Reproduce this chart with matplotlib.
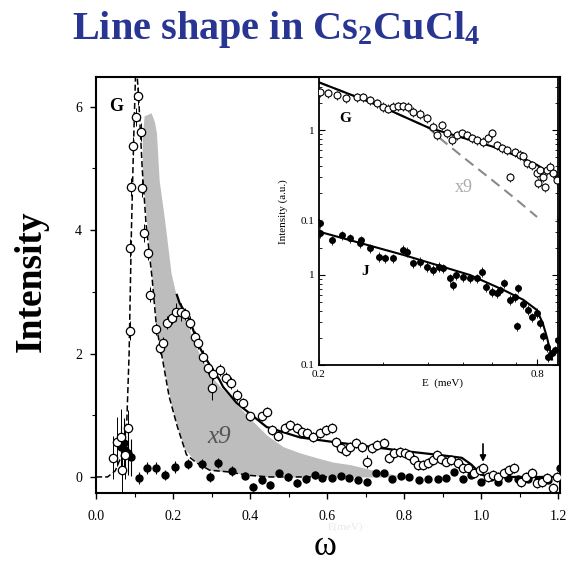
import numpy as np
import matplotlib
matplotlib.use("Agg")
import matplotlib.pyplot as plt
from matplotlib.ticker import FixedLocator, FixedFormatter, NullFormatter

plt.rcParams['font.family'] = ['Liberation Serif', 'DejaVu Serif']
plt.rcParams['mathtext.fontset'] = 'custom'
plt.rcParams['mathtext.rm'] = 'Liberation Serif:bold'
plt.rcParams['mathtext.it'] = 'Liberation Serif:bold'
plt.rcParams['mathtext.bf'] = 'Liberation Serif:bold'

# ---------------- main panel data ----------------
g_w = [0.044, 0.055, 0.065, 0.068, 0.075, 0.084, 0.087, 0.089, 0.092, 0.097, 0.104, 0.110,
       0.117, 0.120, 0.125, 0.136, 0.141, 0.157, 0.167, 0.175, 0.185, 0.198, 0.209, 0.222,
       0.232, 0.243, 0.258, 0.264, 0.277, 0.290, 0.300, 0.303, 0.321, 0.337, 0.350, 0.367,
       0.381, 0.400, 0.430, 0.443, 0.457, 0.473, 0.490, 0.504, 0.522, 0.535, 0.548, 0.564,
       0.582, 0.598, 0.613, 0.624, 0.636, 0.648, 0.660, 0.674, 0.692, 0.705, 0.718, 0.731,
       0.747, 0.760, 0.773, 0.789, 0.802, 0.812, 0.825, 0.836, 0.849, 0.862, 0.875, 0.885,
       0.896, 0.909, 0.922, 0.940, 0.953, 0.966, 0.982, 0.997, 1.005, 1.018, 1.031, 1.044,
       1.060, 1.073, 1.086, 1.104, 1.118, 1.131, 1.144, 1.157, 1.170, 1.188, 1.196]
g_I = [0.31, 0.57, 0.65, 0.11, 0.36, 0.79, 2.37, 3.71, 4.70, 5.36, 5.83, 6.17,
       5.59, 4.68, 3.95, 3.63, 2.95, 2.40, 2.09, 2.17, 2.50, 2.58, 2.67, 2.67,
       2.64, 2.50, 2.27, 2.17, 1.95, 1.77, 1.44, 1.67, 1.73, 1.60, 1.52, 1.33,
       1.20, 0.98, 0.98, 1.06, 0.76, 0.66, 0.79, 0.84, 0.79, 0.73, 0.71, 0.65,
       0.71, 0.76, 0.80, 0.56, 0.47, 0.42, 0.49, 0.55, 0.49, 0.25, 0.47, 0.52,
       0.55, 0.31, 0.39, 0.41, 0.39, 0.36, 0.28, 0.19, 0.19, 0.23, 0.28, 0.36,
       0.29, 0.25, 0.28, 0.23, 0.15, 0.15, 0.06, 0.11, 0.15, 0.00, 0.03, 0.00,
       0.06, 0.11, 0.15, -0.08, 0.00, 0.06, -0.10, -0.08, -0.02, -0.18, 0.00]
g_err = [0.35, 0.40, 0.45, 0.40, 0.40, 0.30, 0.15, 0.15, 0.15, 0.15, 0.15, 0.15,
         0.15, 0.15, 0.15, 0.12, 0.12, 0.10, 0.10, 0.10, 0.10, 0.10, 0.15, 0.15,
         0.10, 0.10, 0.10, 0.10, 0.10, 0.10, 0.20, 0.10, 0.10, 0.10, 0.10, 0.10,
         0.08, 0.08, 0.08, 0.08, 0.08, 0.08, 0.08, 0.08, 0.08, 0.08, 0.08, 0.08,
         0.08, 0.08, 0.08, 0.08, 0.08, 0.08, 0.08, 0.08, 0.08, 0.10, 0.08, 0.08,
         0.08, 0.08, 0.08, 0.08, 0.08, 0.08, 0.08, 0.08, 0.08, 0.08, 0.08, 0.08,
         0.08, 0.08, 0.08, 0.08, 0.08, 0.08, 0.08, 0.08, 0.08, 0.08, 0.08, 0.08,
         0.08, 0.08, 0.08, 0.08, 0.08, 0.08, 0.08, 0.08, 0.08, 0.08, 0.08]

j_w = [0.066, 0.072, 0.076, 0.082, 0.091, 0.112, 0.133, 0.157, 0.180, 0.204, 0.238, 0.274,
       0.295, 0.316, 0.352, 0.386, 0.407, 0.430, 0.452, 0.475, 0.499, 0.522, 0.546, 0.569,
       0.587, 0.613, 0.637, 0.658, 0.681, 0.705, 0.726, 0.747, 0.770, 0.791, 0.812, 0.838,
       0.862, 0.888, 0.909, 0.930, 0.953, 0.974, 1.000, 1.026, 1.044, 1.070, 1.097, 1.123,
       1.149, 1.175, 1.204]
j_I = [0.49, 0.55, 0.44, 0.38, 0.32, -0.02, 0.15, 0.15, 0.03, 0.16, 0.21, 0.21,
       0.00, 0.23, 0.10, 0.02, -0.16, -0.05, -0.13, 0.06, 0.00, -0.10, -0.03, 0.03,
       -0.02, -0.02, 0.02, -0.02, -0.05, -0.08, 0.06, 0.07, -0.03, 0.02, 0.00, -0.05,
       -0.03, -0.03, -0.02, 0.08, -0.03, 0.03, -0.08, 0.00, -0.08, -0.02, -0.03, -0.03,
       -0.05, -0.05, 0.15]
j_err = [0.35, 0.40, 0.40, 0.35, 0.30, 0.10, 0.10, 0.10, 0.08, 0.10, 0.08, 0.08,
         0.08, 0.08, 0.08, 0.06, 0.06, 0.06, 0.06, 0.06, 0.06, 0.06, 0.06, 0.06,
         0.05, 0.05, 0.05, 0.05, 0.05, 0.05, 0.05, 0.05, 0.05, 0.05, 0.05, 0.05,
         0.05, 0.05, 0.05, 0.05, 0.05, 0.05, 0.05, 0.05, 0.05, 0.05, 0.05, 0.05,
         0.05, 0.05, 0.08]

fit_w = [0.210, 0.217, 0.243, 0.269, 0.287, 0.321, 0.330, 0.365, 0.381, 0.443, 0.530,
         0.600, 0.700, 0.800, 0.900, 0.950, 0.975, 1.000, 1.020, 1.205]
fit_I = [2.95, 2.82, 2.54, 2.10, 1.90, 1.57, 1.46, 1.20, 1.12, 0.81, 0.64,
         0.58, 0.50, 0.42, 0.35, 0.31, 0.20, 0.04, 0.00, 0.00]

dash_w = [0.000, 0.030, 0.050, 0.070, 0.080, 0.086, 0.092, 0.098, 0.104, 0.112, 0.120,
          0.130, 0.146, 0.157, 0.170, 0.190, 0.211, 0.235, 0.261, 0.295, 0.347, 0.390,
          0.450, 0.600]
dash_I = [0.00, 0.00, 0.10, 0.40, 0.90, 2.00, 4.00, 5.50, 6.80, 6.00, 5.00,
          4.10, 3.20, 2.43, 2.00, 1.30, 0.82, 0.36, 0.23, 0.11, 0.08, 0.03,
          0.00, 0.00]

grey_w = [0.120, 0.125, 0.143, 0.152, 0.157, 0.164, 0.178, 0.195, 0.209, 0.230, 0.260,
          0.300, 0.350, 0.400, 0.443, 0.486, 0.530, 0.574, 0.616, 0.660, 0.700, 0.740, 0.780]
grey_top = [5.50, 5.85, 5.90, 5.75, 5.57, 4.81, 4.17, 3.30, 2.92, 2.60, 2.10,
            1.62, 1.28, 0.95, 0.68, 0.49, 0.39, 0.31, 0.24, 0.20, 0.14, 0.08, 0.03]

arrow_w = 1.005
arrow_from, arrow_to = 0.58, 0.20

main_xticks = [0.0, 0.2, 0.4, 0.6, 0.8, 1.0, 1.2]
main_xticklabels = ['0.0', '0.2', '0.4', '0.6', '0.8', '1.0', '1.2']
main_yticks = [0, 2, 4, 6]

# ---------------- inset data ----------------
gi_E = [0.201, 0.212, 0.224, 0.238, 0.254, 0.265, 0.277, 0.289, 0.301, 0.311, 0.321, 0.331,
        0.342, 0.353, 0.364, 0.380, 0.397, 0.414, 0.423, 0.437, 0.451, 0.465, 0.480, 0.496,
        0.512, 0.528, 0.545, 0.569, 0.587, 0.599, 0.619, 0.639, 0.660, 0.673, 0.696, 0.718,
        0.733, 0.749, 0.773, 0.798, 0.807, 0.816, 0.833, 0.842, 0.851, 0.869, 0.887, 0.906]
gi_I = [2.66, 2.56, 2.45, 2.25, 2.34, 2.34, 2.15, 1.98, 1.82, 1.74, 1.82, 1.85,
        1.85, 1.82, 1.60, 1.53, 1.35, 1.09, 0.88, 1.14, 0.92, 0.77, 0.88, 0.92,
        0.88, 0.81, 0.77, 0.74, 0.81, 0.92, 0.68, 0.63, 0.60, 0.30, 0.57, 0.53,
        0.51, 0.43, 0.41, 0.33, 0.26, 0.36, 0.30, 0.23, 0.36, 0.39, 0.33, 0.28]
gi_fit_E = [0.20, 0.25, 0.30, 0.40, 0.50, 0.60, 0.70, 0.80, 0.914]
gi_fit_I = [3.40, 2.40, 1.80, 1.07, 0.82, 0.66, 0.52, 0.41, 0.29]
gi_x9_E = [0.20, 0.30, 0.40, 0.43, 0.50, 0.60, 0.70, 0.80]
gi_x9_I = [3.40, 1.80, 1.07, 0.82, 0.50, 0.28, 0.17, 0.108]

ji_E = [0.201, 0.201, 0.217, 0.231, 0.244, 0.260, 0.262, 0.277, 0.292, 0.304, 0.321, 0.342,
        0.349, 0.364, 0.380, 0.397, 0.414, 0.428, 0.441, 0.459, 0.468, 0.478, 0.500, 0.522,
        0.545, 0.562, 0.580, 0.599, 0.619, 0.631, 0.650, 0.673, 0.696, 0.704, 0.710, 0.733,
        0.757, 0.773, 0.798, 0.816, 0.833, 0.851, 0.860, 0.877, 0.896, 0.913]
ji_I = [3.75, 2.90, 2.45, 2.78, 2.55, 2.25, 2.45, 1.98, 1.60, 1.53, 1.53, 1.90,
        1.82, 1.35, 1.41, 1.24, 1.14, 1.24, 1.19, 0.92, 0.77, 1.00, 0.96, 0.92,
        0.92, 1.09, 0.74, 0.65, 0.63, 0.68, 0.81, 0.53, 0.57, 0.27, 0.71, 0.48,
        0.41, 0.34, 0.38, 0.29, 0.21, 0.16, 0.124, 0.135, 0.147, 0.19]
ji_fit_E = [0.20, 0.342, 0.522, 0.647, 0.733, 0.798, 0.830, 0.851, 0.869, 0.880]
ji_fit_I = [3.03, 1.67, 1.00, 0.68, 0.53, 0.41, 0.29, 0.206, 0.147, 0.115]

inset_xticks = [0.2, 0.8]
inset_xticklabels = ['0.2', '0.8']
inset_yticks = [0.1, 1]
inset_yticklabels = ['0.1', '1']

# ---------------- figure ----------------
fig = plt.figure(figsize=(5.70, 5.64), dpi=100)
fig.patch.set_facecolor('white')

ax = fig.add_axes([96/570, 1-493/564, 464/570, 416/564])
ax.set_xlim(0, 1.205)
ax.set_ylim(-0.26, 6.48)

lower = np.interp(grey_w, dash_w, dash_I)
ax.fill_between(grey_w, lower, grey_top, color='#bdbdbd', lw=0, zorder=1)
ax.plot(dash_w, dash_I, color='black', lw=1.1, ls=(0, (4, 2)), zorder=2)
ax.plot(fit_w, fit_I, color='black', lw=1.6, zorder=3)
ax.errorbar(j_w, j_I, yerr=j_err, fmt='o', ms=5, mfc='black', mec='black',
            ecolor='black', elinewidth=0.8, capsize=0, zorder=4)
ax.errorbar(g_w, g_I, yerr=g_err, fmt='o', ms=6, mfc='white', mec='black', mew=0.9,
            ecolor='black', elinewidth=0.7, capsize=0, zorder=5)
ax.annotate('', xy=(arrow_w, arrow_to), xytext=(arrow_w, arrow_from),
            arrowprops=dict(arrowstyle='-|>', color='black', lw=1.2, mutation_scale=9), zorder=6)

ax.text(0.035, 6.0, 'G', fontsize=13, fontweight='bold', va='center', ha='left')
ax.text(0.29, 0.64, 'x9', fontsize=18, style='italic', color='#555555', va='center', ha='left')

ax.set_xticks(main_xticks)
ax.set_xticklabels(main_xticklabels)
ax.set_xticks(np.arange(0.1, 1.2, 0.2), minor=True)
ax.set_yticks(main_yticks)
ax.set_yticks([1, 3, 5], minor=True)
ax.tick_params(axis='both', which='major', labelsize=10, colors='black', length=4, width=1)
ax.tick_params(axis='x', which='both', direction='out', pad=8)
ax.tick_params(axis='y', which='both', direction='out', pad=6)
ax.tick_params(which='minor', length=3, width=0.8)
for s in ax.spines.values():
    s.set_linewidth(1.5)

# ---------------- inset ----------------
x0, w = 319/570, 239/570
axG = fig.add_axes([x0, 1-220/564, w, 143/564], facecolor='white')
axJ = fig.add_axes([x0, 1-365/564, w, 145/564], facecolor='white')

for a in (axG, axJ):
    a.set_xscale('log')
    a.set_yscale('log')
    a.set_xlim(0.2, 0.914)
    a.xaxis.set_major_locator(FixedLocator(inset_xticks))
    a.xaxis.set_minor_locator(FixedLocator([0.3, 0.4, 0.5, 0.6, 0.7]))
    a.yaxis.set_major_locator(FixedLocator(inset_yticks))
    a.yaxis.set_major_formatter(FixedFormatter(inset_yticklabels))
    a.yaxis.set_minor_locator(FixedLocator([0.2, 0.3, 0.4, 0.5, 0.6, 0.7, 0.8, 0.9, 2, 3, 4]))
    a.yaxis.set_minor_formatter(NullFormatter())
    a.xaxis.set_minor_formatter(NullFormatter())
    a.tick_params(which='both', direction='in', right=True, labelsize=8)
    a.tick_params(which='major', length=4)
    a.tick_params(which='minor', length=2)
    for s in a.spines.values():
        s.set_linewidth(1.3)

axG.set_ylim(0.1, 3.9)
axJ.set_ylim(0.1, 4.08)
axG.spines['bottom'].set_visible(False)
axJ.spines['top'].set_visible(False)
axG.tick_params(axis='x', which='both', bottom=False, labelbottom=False)
axJ.xaxis.set_major_formatter(FixedFormatter(inset_xticklabels))
axJ.tick_params(axis='x', which='both', top=False)

axG.plot(gi_x9_E, gi_x9_I, color='#8a8a8a', lw=1.5, ls=(0, (5, 3)), zorder=1)
axG.plot(gi_fit_E, gi_fit_I, color='black', lw=1.5, zorder=2)
gi_err = [v * 0.12 for v in gi_I]
axG.errorbar(gi_E, gi_I, yerr=gi_err, fmt='o', ms=5, mfc='white', mec='black', mew=0.8,
             ecolor='black', elinewidth=0.6, capsize=0, zorder=3)
axG.text(0.228, 1.35, 'G', fontsize=11, fontweight='bold', va='center')
axG.text(0.475, 0.23, 'x9', fontsize=13, color='#aaaaaa', va='center')

axJ.plot(ji_fit_E, ji_fit_I, color='black', lw=1.5, zorder=2)
ji_err = [v * 0.12 for v in ji_I]
axJ.errorbar(ji_E, ji_I, yerr=ji_err, fmt='o', ms=4, mfc='black', mec='black',
             ecolor='black', elinewidth=0.6, capsize=0, zorder=3)
axJ.text(0.262, 1.1, 'J', fontsize=11, fontweight='bold', va='center')

fig.text(283/570, 1-212/564, 'Intensity (a.u.)', rotation=90, fontsize=8,
         ha='center', va='center')
fig.text(442/570, 1-383/564, 'E  (meV)', fontsize=8, ha='center', va='center')

# ---------------- labels & title ----------------
fig.text(276/570, 1-30/564, r'Line shape in Cs$_{2}$CuCl$_{4}$', fontsize=29,
         fontweight='bold', color='#283593', ha='center', va='center')
fig.text(31/570, 1-281/564, 'Intensity', rotation=90, fontsize=27, fontweight='bold',
         ha='center', va='center')
fig.text(345/570, 1-527/564, 'E(meV)', fontsize=8, color='#e8e8e8', ha='center', va='center')
fig.text(325/570, 1-555/564, 'ω', fontsize=25, ha='center', va='baseline')

fig.savefig('out.png', dpi=100, facecolor='white')
